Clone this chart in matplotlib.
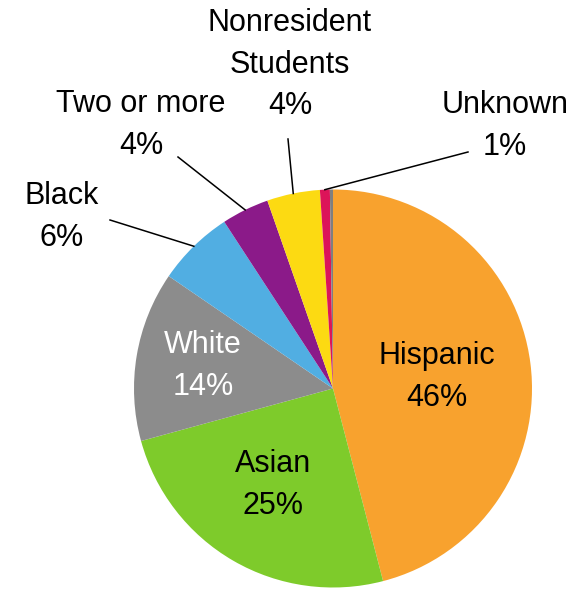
import numpy as np
import matplotlib
matplotlib.use("Agg")
import matplotlib.pyplot as plt

# slice shares (clockwise from 12 o'clock), last one is the tiny unlabeled sliver
groups = ['Hispanic', 'Asian', 'White', 'Black', 'Two or more',
          'Nonresident\nStudents', 'Unknown', 'Other']
shares = [45.95, 24.8, 13.8, 6.25, 3.85, 4.3, 0.8, 0.25]
pct_labels = ['46%', '25%', '14%', '6%', '4%', '4%', '1%', '']
colors = ['#F8A22E', '#7ECB2B', '#8C8C8C', '#51AEE2', '#8B1A89',
          '#FCDA12', '#DC1459', '#7F7F7F']
text_colors = ['black', 'black', 'white', 'black', 'black', 'black', 'black', 'black']

# label block centres in pixels, and where the leader line starts (None = inside)
label_px = [(437, 377), (273, 485), (203, 366), (62, 217), (141, 125),
            (290, 65), (505, 126), None]
leader_px = [None, None, None, (110, 220), (178, 157), (288, 139), (468, 152), None]

W, H = 577, 589
CX, CY, R = 333, 388.5, 199


def to_data(p):
    return ((p[0] - CX) / R, (CY - p[1]) / R)


fig = plt.figure(figsize=(W / 100, H / 100), dpi=100)
ax = fig.add_axes([0, 0, 1, 1])

wedges, _ = ax.pie(shares, colors=colors, startangle=90, counterclock=False,
                   radius=1, center=(0, 0),
                   wedgeprops=dict(linewidth=0))

ax.set_xlim(-CX / R, (W - CX) / R)
ax.set_ylim(-(H - CY) / R, CY / R)
ax.axis('off')

for w, name, pct, pos, lead, tc in zip(wedges, groups, pct_labels,
                                         label_px, leader_px, text_colors):
    if pos is None:
        continue
    x, y = to_data(pos)
    ax.text(x, y, name + '\n' + pct, ha='center', va='center',
            multialignment='center', fontsize=22, color=tc,
            family='Liberation Sans', linespacing=1.5)
    if lead is not None:
        mid = np.deg2rad((w.theta1 + w.theta2) / 2)
        lx, ly = to_data(lead)
        ax.plot([lx, np.cos(mid)], [ly, np.sin(mid)], color='black', lw=1.1)

fig.savefig('out.png', dpi=100)
